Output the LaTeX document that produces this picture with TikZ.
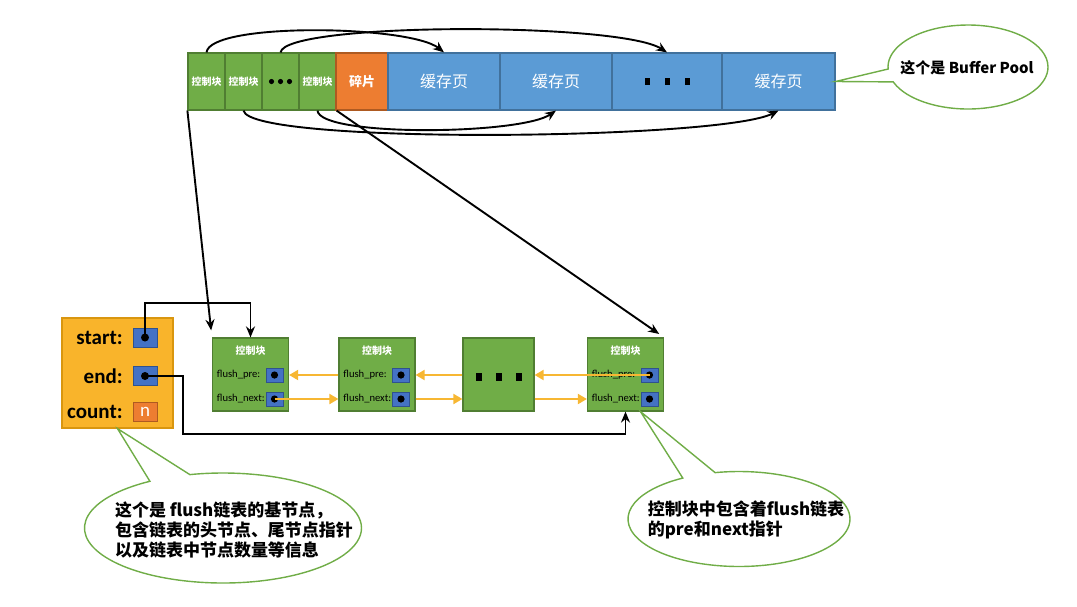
\documentclass[tikz,border=0pt]{standalone}
\usepackage{fontspec}
\setmainfont{Carlito}
\newfontfamily\cjk{Noto Sans CJK SC}
\usetikzlibrary{arrows.meta, positioning, calc, shapes.callouts}

\definecolor{cellgreen}{HTML}{70AD47}
\definecolor{greenline}{HTML}{507E32}
\definecolor{pageblue}{HTML}{5B9BD5}
\definecolor{blueline}{HTML}{41719C}
\definecolor{fragorange}{HTML}{ED7D31}
\definecolor{orangeline}{HTML}{AE5A21}
\definecolor{ptrblue}{HTML}{4472C4}
\definecolor{ptrline}{HTML}{2F528F}
\definecolor{headyellow}{HTML}{F9B42B}
\definecolor{headline}{HTML}{D9960F}
\definecolor{linkyellow}{HTML}{F7B733}
\definecolor{notegreen}{HTML}{70AD47}

\begin{document}
\begin{tikzpicture}[x=0.5pt, y=-0.5pt,
    ctl/.style={draw=greenline, fill=cellgreen, line width=0.6pt, minimum width=18.5pt, minimum height=28.5pt, inner sep=0pt, text=white, font=\cjk\bfseries\fontsize{5}{6}\selectfont},
    frag/.style={ctl, draw=orangeline, fill=fragorange, minimum width=26pt, font=\cjk\bfseries\fontsize{6.5}{7}\selectfont},
    page/.style={ctl, draw=blueline, fill=pageblue, minimum width=56pt, font=\cjk\fontsize{8}{9}\selectfont},
    blk/.style={draw=greenline, fill=cellgreen, line width=0.6pt, minimum width=38pt, minimum height=36.5pt, inner sep=0pt},
    ttl/.style={text=white, inner sep=0pt, font=\cjk\bfseries\fontsize{5}{6}\selectfont},
    fld/.style={anchor=west, inner sep=0pt, font=\fontsize{5.3}{6}\selectfont},
    ptr/.style={draw=ptrline, fill=ptrblue, line width=0.5pt, minimum width=8.5pt, minimum height=7pt, inner sep=0pt},
    hptr/.style={ptr, minimum width=12pt, minimum height=9.5pt},
    hlbl/.style={anchor=east, inner sep=0pt, font=\bfseries\fontsize{10.5}{11}\selectfont},
    barr/.style={-{Stealth[length=5.5pt, width=4.5pt]}, line width=0.95pt},
    yarr/.style={-{Triangle[length=4.5pt, width=5pt]}, draw=linkyellow, line width=1pt},
    bubble/.style={ellipse callout, draw=notegreen, line width=0.7pt, fill=white, callout pointer arc=18},
    notetxt/.style={align=left, inner sep=0pt, font=\cjk\bfseries\fontsize{8.5}{10}\selectfont},
]
    \useasboundingbox (0,0) rectangle (1077,606);

    % buffer pool
    \node[ctl] (c1) at (206.5,81.5) {控制块};
    \node[ctl] (c2) at (243.5,81.5) {控制块};
    \node[ctl] (c3) at (280.5,81.5) {};
    \node[ctl] (c4) at (317.5,81.5) {控制块};
    \node[frag] (fr) at (362,81.5) {碎片};
    \node[page] (p1) at (444,81.5) {缓存页};
    \node[page] (p2) at (556,81.5) {缓存页};
    \node[page, minimum width=55pt] (p3) at (667,81.5) {};
    \node[page, minimum width=56.5pt] (p4) at (778.5,81.5) {缓存页};
    \foreach \dx in {-9,0,9} \fill ([shift={(\dx,0)}]c3.center) circle (1.3pt);
    \foreach \dx in {-20,0,20} \fill ([shift={(\dx,0)}]p3.center) +(-2.5,-3.5) rectangle +(2.5,3.5);

    \draw[barr] (c1.north) .. controls (210,22) and (410,25) .. (p1.north);
    \draw[barr] (c3.north) .. controls (285,22) and (620,22) .. (p3.north);
    \draw[barr] (c2.south) .. controls (250,145) and (720,140) .. (p4.south);
    \draw[barr] (c4.south) .. controls (320,137) and (520,135) .. (p2.south);

    % flush list
    \foreach \n/\x in {n1/250.5, n2/377, n4/625.5} {
        \node[blk] (\n) at (\x,374.5) {};
        \node[ttl] (\n-t) at (\x,351) {控制块};
        \node[fld] (\n-pl) at (\x-34,375) {flush\_pre:};
        \node[fld] (\n-nl) at (\x-34,399) {flush\_next:};
        \node[ptr] (\n-pre) at (\x+24,375) {};
        \node[ptr] (\n-next) at (\x+24,399) {};
        \fill (\n-pre.center) circle (1.8pt);
        \fill (\n-next.center) circle (1.8pt);
    }
    \node[blk, minimum width=35.5pt] (mid) at (498.5,374.5) {};
    \foreach \dx in {-20,0,20} \fill ([shift={(\dx,2.5)}]mid.center) +(-3,-4) rectangle +(3,4);

    \draw[yarr] (n1-pre -| n2.west) -- (n1-pre -| n1.east);
    \draw[yarr] (n1-next.center) -- (n1-next -| n2.west);
    \draw[yarr] (n2-pre -| mid.west) -- (n2-pre -| n2.east);
    \draw[yarr] (n2-next -| n2.east) -- (n2-next -| mid.west);
    \draw[yarr] (n4-pre.center) -- (n4-pre -| mid.east);
    \draw[yarr] (n4-next -| mid.east) -- (n4-next -| n4.west);

    % base node
    \node[draw=headline, fill=headyellow, line width=0.6pt, minimum width=55.5pt, minimum height=55pt] (head) at (117.5,373) {};
    \node[hlbl] (s-lbl) at (123,337.5) {start:};
    \node[hlbl] (e-lbl) at (123,376) {end:};
    \node[hlbl] (c-lbl) at (123,412) {count:};
    \node[hptr] (s-ptr) at (145,337.5) {};
    \node[hptr] (e-ptr) at (145,376) {};
    \node[hptr, draw=orangeline, fill=fragorange, text=white, font=\fontsize{9.5}{10}\selectfont] (c-ptr) at (145,412) {n};
    \fill (s-ptr.center) circle (2pt);
    \fill (e-ptr.center) circle (2pt);

    \coordinate (e-turn) at (183,434);
    \draw[barr] (s-ptr.center) -- ++(0,-34.5) -| (n1.north);
    \draw[barr] (e-ptr.center) -| (e-turn) -| (n4.south);

    \draw[barr, shorten >=3.5pt] (c1.south west) -- (n1.north west);
    \draw[barr, shorten >=3pt] (c4.south east) -- (n4.north east);

    % notes
    \node[bubble, minimum width=80pt, minimum height=42pt, callout absolute pointer={(p4.east)}] (note0) at (968,67) {};
    \node[notetxt, font=\cjk\bfseries\fontsize{7.5}{9}\selectfont] (note0-t) at (967,68) {这个是 Buffer Pool};
    \node[bubble, minimum width=138.5pt, minimum height=55pt, callout absolute pointer={(head.south)}] (note1) at (223,528) {};
    \node[notetxt] (note1-t) at (234,530) {这个是 flush链表的基节点，\\包含链表的头节点、尾节点指针\\以及链表中节点数量等信息};
    \node[bubble, minimum width=111pt, minimum height=47.5pt, callout absolute pointer={(n4.south -| n4-next.west)}] (note2) at (739,519) {};
    \node[notetxt] (note2-t) at (746,520) {控制块中包含着flush链表\\的pre和next指针};
\end{tikzpicture}
\end{document}
